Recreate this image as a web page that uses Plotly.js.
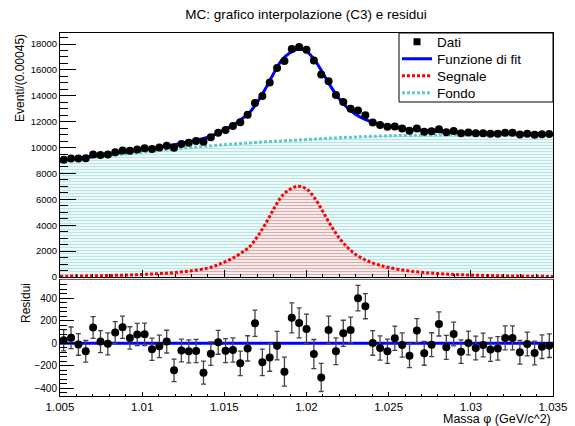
<!DOCTYPE html>
<html><head><meta charset="utf-8">
<script src="https://cdn.plot.ly/plotly-3.0.1.min.js"></script>
<style>html,body{margin:0;padding:0;background:#fff}</style>
</head><body><div id="chart" style="width:575px;height:426px"></div>
<script>
// ---- data ----
const binLow = 1.005, binHigh = 1.035, nBins = 67;
const counts = [9053,9148,9163,9177,9463,9417,9469,9643,9764,9748,
  9859,9943,9895,10007,10144,9986,10272,10374,10507,10456,
  10801,11145,11357,11675,11953,12526,13448,13981,15034,16138,
  16687,17611,17766,17548,16728,15646,15125,14068,13517,12996,
  12862,12496,11945,11751,11599,11619,11466,11303,11473,11227,
  11268,11412,11177,11271,11096,11157,11099,11112,11059,11061,
  11145,11137,11001,11070,10984,11036,11040];
const countErrors = [95,96,96,96,97,97,97,98,99,99,
  99,100,99,100,101,100,101,102,103,102,
  104,106,107,108,109,112,116,118,123,127,
  129,133,133,132,129,125,123,119,116,114,
  113,112,109,108,108,108,107,106,107,106,
  106,107,106,106,105,106,105,105,105,105,
  106,106,105,105,105,105,105];
const residuals = [27,49,-10,-71,140,15,-5,95,142,48,
  78,80,-53,-27,15,-240,-64,-71,-68,-261,
  -92,9,-65,-59,-178,-45,178,-169,-125,-21,
  -252,226,181,128,-95,-303,119,-71,89,119,
  401,330,3,-42,-71,45,-15,-110,113,-89,
  -12,172,-36,83,-74,3,-42,-15,-56,-45,
  48,48,-80,-6,-86,-30,-21];
const curveMass = [1.005,1.006,1.007,1.008,1.009,1.010,1.011,1.012,1.013,1.014,
  1.0145,1.015,1.0155,1.016,1.0165,1.017,1.0175,1.018,1.0185,1.019,
  1.0195,1.020,1.0205,1.021,1.0215,1.022,1.0225,1.023,1.0235,1.024,
  1.0245,1.025,1.026,1.027,1.028,1.029,1.030,1.031,1.032,1.033,1.034,1.035];
const signalCurve = [60,75,95,120,150,195,260,350,480,690,
  890,1150,1450,1850,2300,3100,4100,5250,6250,6780,
  7020,6800,6100,5050,3950,3000,2280,1740,1370,1090,
  900,740,510,370,270,200,150,115,90,70,55,45];
const fitCurve = [8990,9153,9321,9488,9654,9835,10024,10238,10484,10802,
  11056,11370,11714,12158,12652,13496,14540,15726,16762,17328,
  17604,17420,16754,15738,14672,13756,13070,12554,12208,11952,
  11786,11650,11444,11328,11246,11188,11150,11119,11098,11081,11068,11060];
const bgMass = [1.005,1.0075,1.010,1.0125,1.015,1.0175,1.020,1.0225,1.025,1.0275,1.030,1.0325,1.035];
const bgCurve = [8930,9300,9640,9950,10220,10440,10620,10790,10910,10970,11000,11010,11015];
const xTickVals = [1.005,1.01,1.015,1.02,1.025,1.03,1.035];
const xTickText = ['1.005','1.01','1.015','1.02','1.025','1.03','1.035'];
const legendNames = ['Dati','Funzione di fit','Segnale','Fondo'];

const binWidth = (binHigh - binLow) / nBins;
const binCenters = counts.map((_, i) => binLow + (i + 0.5) * binWidth);

const FONT = 'Liberation Sans, Arial, Helvetica, sans-serif';
const CYAN = '#5fcaca';

const traces = [
  {x: bgMass, y: bgCurve, xaxis:'x', yaxis:'y', mode:'lines', line:{width:0, shape:'spline'},
   fill:'tozeroy', fillcolor:'rgba(0,0,0,0)',
   fillpattern:{shape:'-', fgcolor:'#b8e6e6', bgcolor:'#ffffff', size:3, solidity:0.5},
   showlegend:false, hoverinfo:'skip'},
  {x: curveMass, y: signalCurve, xaxis:'x', yaxis:'y', mode:'lines', line:{width:0, shape:'spline'},
   fill:'tozeroy', fillcolor:'rgba(0,0,0,0)',
   fillpattern:{shape:'-', fgcolor:'#d9adad', bgcolor:'#ffffff', size:3, solidity:0.5},
   showlegend:false, hoverinfo:'skip'},
  {x: bgMass, y: bgCurve, xaxis:'x', yaxis:'y', mode:'lines', name:legendNames[3], legend:'legend4',
   line:{color:CYAN, width:3, dash:'3px,2px', shape:'spline'}},
  {x: curveMass, y: signalCurve, xaxis:'x', yaxis:'y', mode:'lines', name:legendNames[2], legend:'legend3',
   line:{color:'#ff0000', width:3, dash:'3px,2px', shape:'spline'}},
  {x: curveMass, y: fitCurve, xaxis:'x', yaxis:'y', mode:'lines', name:legendNames[1], legend:'legend2',
   line:{color:'#0000ff', width:3, shape:'spline'}},
  {x: binCenters, y: counts, xaxis:'x', yaxis:'y', mode:'markers', showlegend:false,
   marker:{color:'black', size:8, symbol:'circle'},
   error_y:{type:'data', array:countErrors, visible:true, color:'#333', thickness:1, width:2}},
  {x:[null], y:[null], xaxis:'x', yaxis:'y', mode:'markers', name:legendNames[0], legend:'legend',
   marker:{color:'black', size:7, symbol:'square'}},
  {x:[binLow, binHigh], y:[0,0], xaxis:'x2', yaxis:'y2', mode:'lines', showlegend:false,
   line:{color:'#0000ff', width:3}},
  {x: binCenters, y: residuals, xaxis:'x2', yaxis:'y2', mode:'markers', showlegend:false,
   marker:{color:'black', size:8},
   error_y:{type:'data', array:countErrors, visible:true, color:'#444', thickness:1.3, width:2.5}}
];

const axCommon = {showline:true, linecolor:'black', linewidth:1, mirror:true, showgrid:false,
  zeroline:false, ticks:'inside', tickcolor:'black'};

function legendAt(rowY) {
  return {x:0.6836, y:(396-rowY)/363, xanchor:'left', yanchor:'middle', bgcolor:'rgba(0,0,0,0)',
    borderwidth:0, font:{family:FONT, size:13.5, color:'black'}};
}

const layout = {
  width:575, height:426,
  margin:{l:60, r:22, t:33, b:30},
  paper_bgcolor:'white', plot_bgcolor:'white',
  font:{family:FONT, color:'black'},
  title:{text:'MC: grafico interpolazione (C3) e residui', font:{family:FONT, size:13.5, color:'black'},
    x:306/575, xanchor:'center', xref:'container', y:1-14/426, yanchor:'middle', yref:'container'},
  showlegend:true,
  legend: legendAt(42),
  legend2: legendAt(59),
  legend3: legendAt(76),
  legend4: legendAt(93),
  xaxis: Object.assign({}, axCommon, {domain:[0,1], range:[binLow, binHigh], anchor:'y',
    showticklabels:false, tickvals:xTickVals, ticklen:7,
    minor:{dtick:0.001, tick0:1.005, ticks:'inside', ticklen:3.5, tickcolor:'black'}}),
  yaxis: Object.assign({}, axCommon, {domain:[0.3278,1], range:[0,18850], anchor:'x',
    dtick:2000, tick0:0, tickformat:'d', ticklen:16, tickfont:{size:9.5},
    minor:{dtick:500, ticks:'inside', ticklen:8, tickcolor:'black'}}),
  xaxis2: Object.assign({}, axCommon, {domain:[0,1], range:[binLow, binHigh], anchor:'y2',
    tickvals:xTickVals, ticktext:xTickText, ticklen:4, tickfont:{size:11.5},
    minor:{dtick:0.001, tick0:1.005, ticks:'inside', ticklen:2, tickcolor:'black'}}),
  yaxis2: Object.assign({}, axCommon, {domain:[0,0.3182], range:[-468,558], anchor:'x2',
    dtick:200, tick0:0, tickformat:'d', ticklen:14, tickfont:{size:10},
    minor:{dtick:40, ticks:'inside', ticklen:7, tickcolor:'black'}}),
  shapes:[
    {type:'rect', xref:'paper', yref:'paper', x0:(399-60)/493, x1:1, y0:(396-102)/363, y1:1,
     fillcolor:'white', line:{color:'black', width:1}, layer:'above'},
    {type:'line', xref:'paper', yref:'paper', x0:0, x1:1, y0:(396-279)/363, y1:(396-279)/363,
     line:{color:'#cccccc', width:1}, layer:'above'}
  ],
  annotations:[
    {text:'Eventi/(0.00045)', xref:'paper', yref:'paper', x:(20-60)/493, y:(396-78)/363,
     xanchor:'center', yanchor:'middle', textangle:-90, showarrow:false, font:{size:12}},
    {text:'Residui', xref:'paper', yref:'paper', x:(26-60)/493, y:(396-303)/363,
     xanchor:'center', yanchor:'middle', textangle:-90, showarrow:false, font:{size:12}},
    {text:'Massa \u03c6 (GeV/c^2)', xref:'paper', yref:'paper', x:1, y:(396-419)/363,
     xanchor:'right', yanchor:'middle', showarrow:false, font:{size:12.5}}
  ]
};

Plotly.newPlot('chart', traces, layout, {displayModeBar:false, staticPlot:true});
</script>
</body></html>
